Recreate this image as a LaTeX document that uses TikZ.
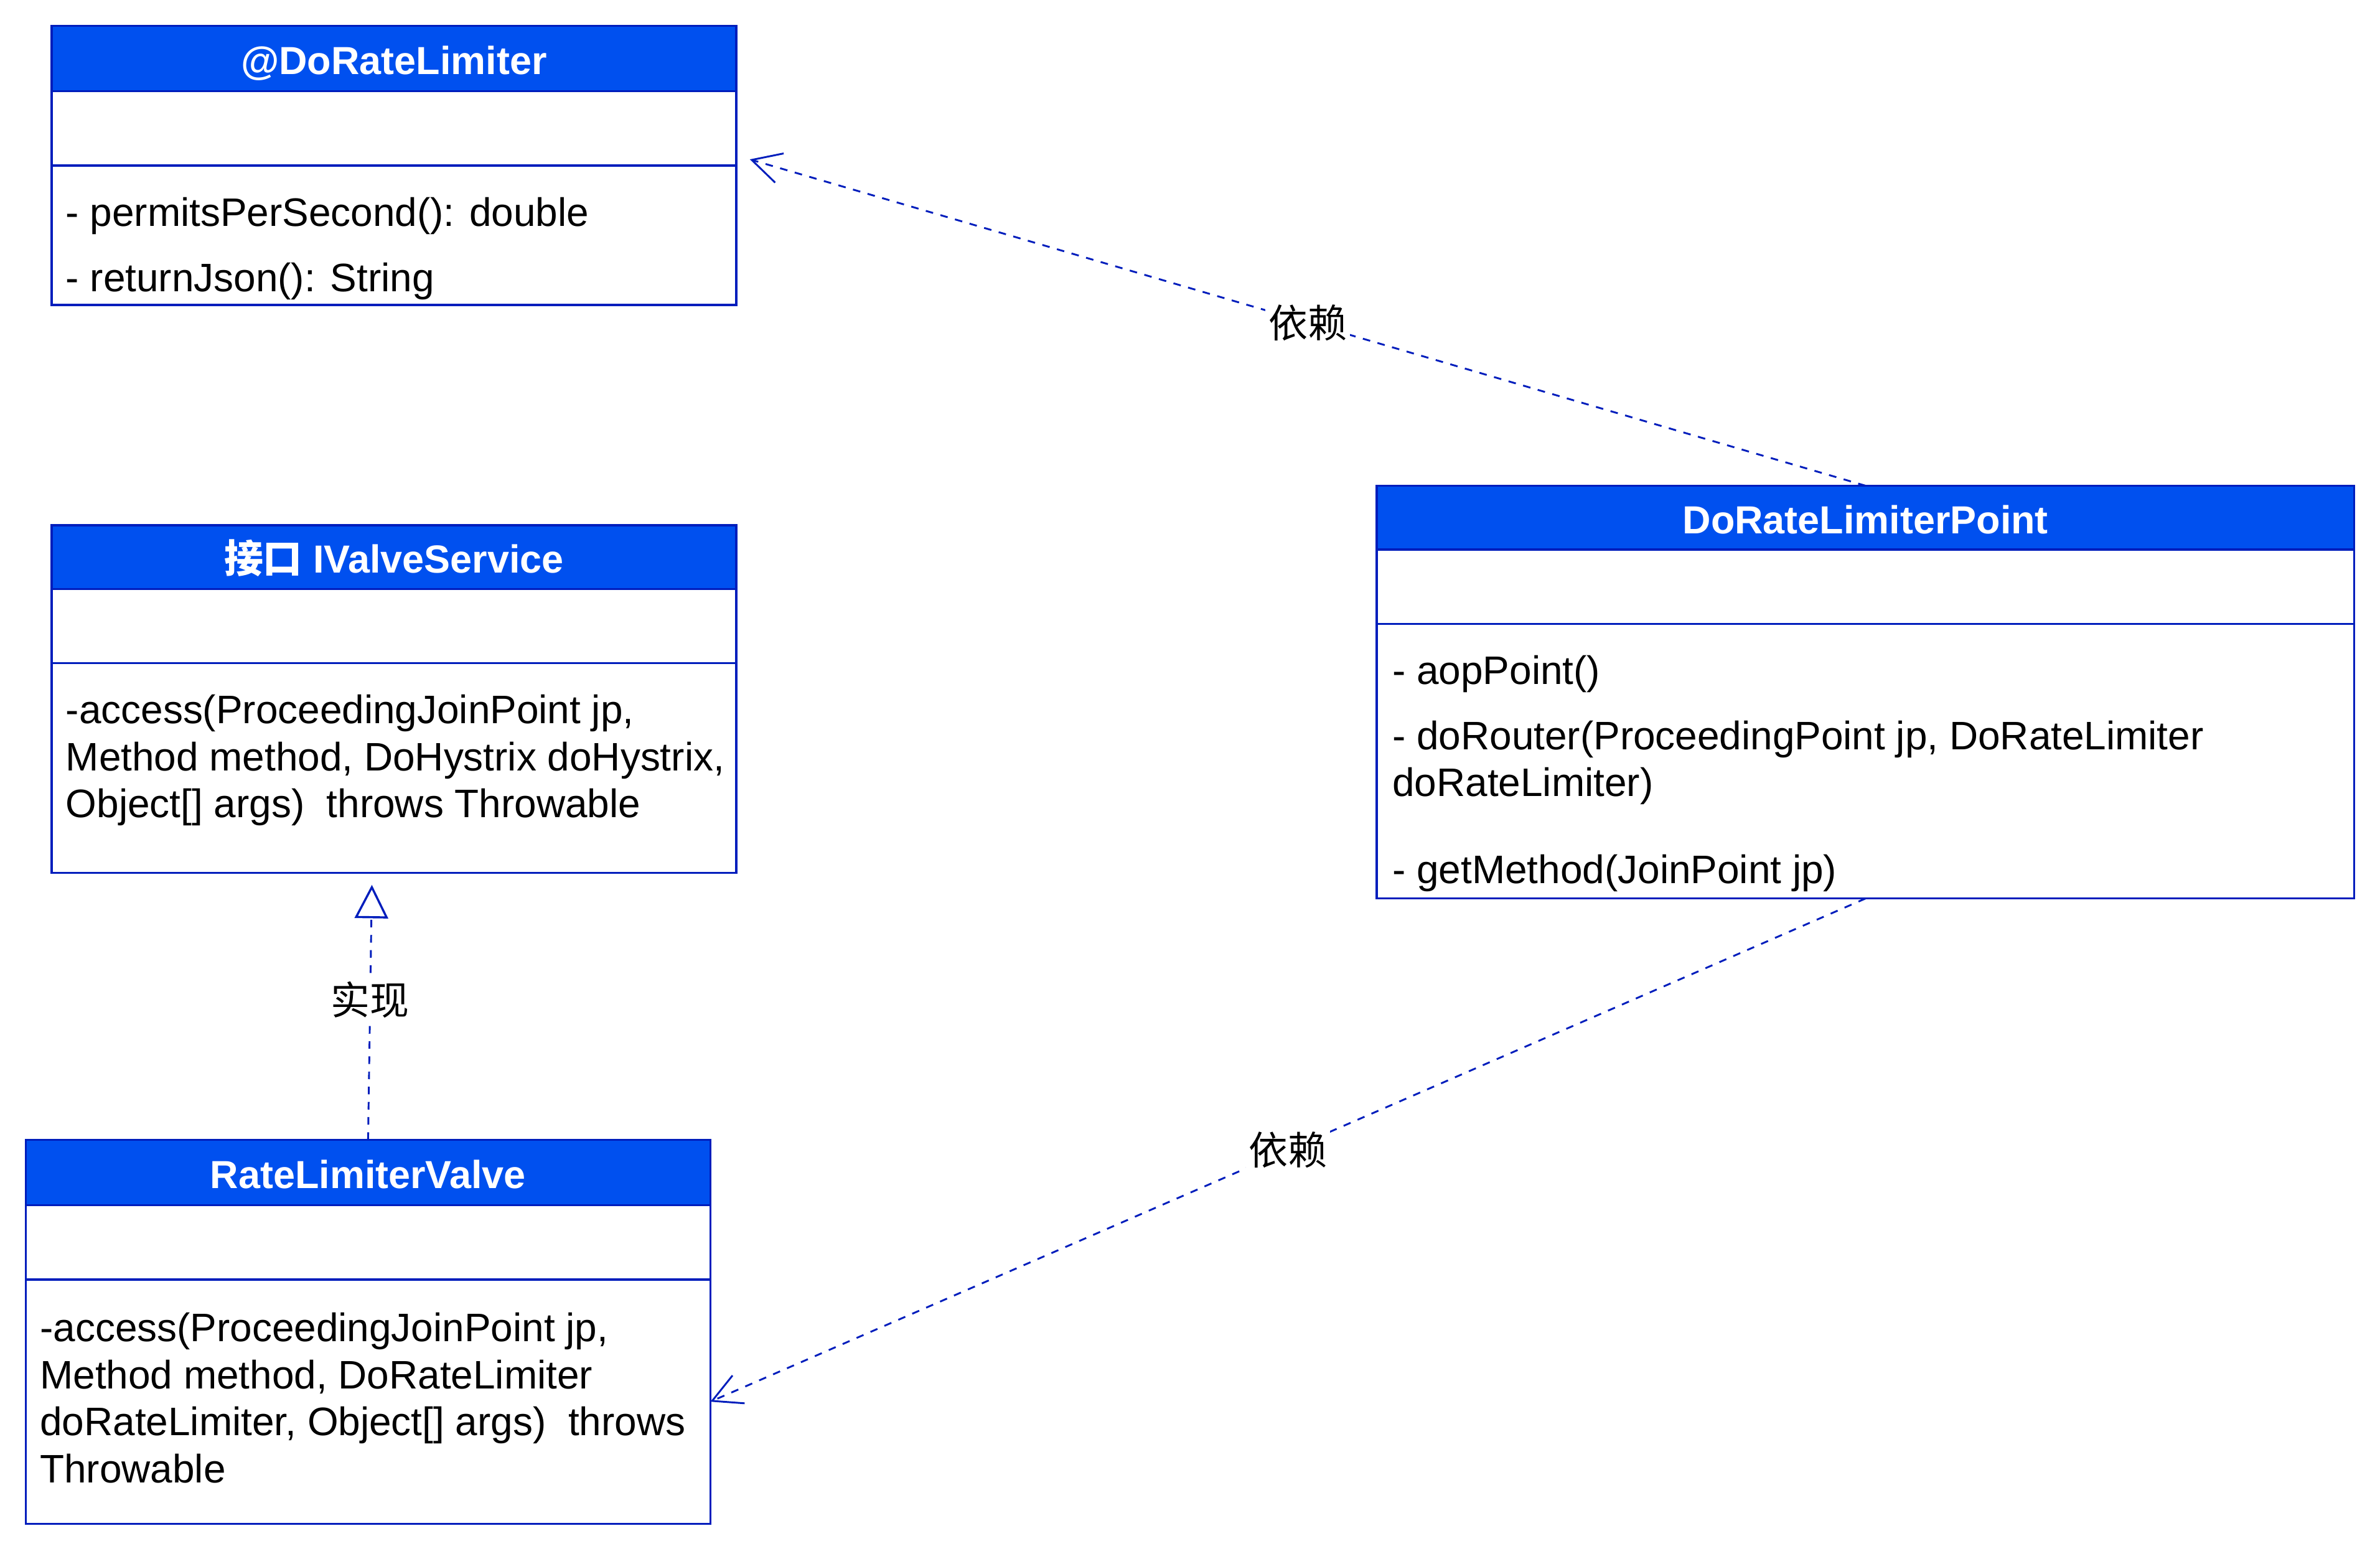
\documentclass[tikz,border=0pt]{standalone}
\usepackage{fontspec}
\setmainfont{Liberation Sans}
\newfontfamily\cjk{Noto Sans CJK SC}
\usetikzlibrary{arrows.meta,positioning}
\definecolor{umlblue}{HTML}{0050EF}
\definecolor{umledge}{HTML}{001DBC}

\begin{document}
\begin{tikzpicture}[x=0.5pt,y=-0.5pt,
    every node/.style={font=\fontsize{13.1}{15.5}\selectfont},
    cls/.style={draw=umledge,line width=0.7pt,fill=umlblue,text=white,outer sep=0pt,
      font=\fontsize{12.9}{15.5}\selectfont\bfseries,inner sep=0pt,anchor=north west,
      text height=1.06em,text depth=0pt},
    sect/.style={draw=umledge,line width=0.7pt,fill=white,inner sep=0pt,outer sep=0pt},
    member/.style={anchor=west,inner sep=0pt,text height=0.75em,text depth=0.25em,yshift=-2pt},
    lines/.style={anchor=west,inner sep=0pt,align=left},
    dep/.style={umledge,line width=0.6pt,dash pattern=on 2.5pt off 2.5pt,
      -{Straight Barb[length=9.5pt,width=10pt,line width=0.6pt]}},
    real/.style={umledge,line width=0.6pt,dash pattern=on 2.5pt off 2.5pt,
      -{Triangle[open,length=11pt,width=11pt,line width=0.7pt]}},
    tag/.style={fill=white,text=black,inner sep=1pt,font=\fontsize{12.9}{15.5}\selectfont\cjk}]
    \fill[white] (0,0) rectangle (1568,1027);
    \useasboundingbox (0,0) rectangle (1568,1027);

    % annotation
    \node[cls,minimum width=225.5pt,minimum height=21.5pt] (limhd) at (34,17) {@DoRateLimiter};
    \node[sect,minimum width=225.5pt,minimum height=24.5pt,below=0pt of limhd] (limattr) {};
    \node[sect,minimum width=225.5pt,minimum height=46pt,below=0pt of limattr] (limops) {};
    \node[member] (limm1) at (43,140) {- permitsPerSecond(): double};
    \node[member] (limm2) at (43,183) {- returnJson(): String};

    % interface
    \node[cls,minimum width=225.5pt,minimum height=21pt] (valvehd) at (34,346) {{\cjk 接口} IValveService};
    \node[sect,minimum width=225.5pt,minimum height=24.5pt,below=0pt of valvehd] (valveattr) {};
    \node[sect,minimum width=225.5pt,minimum height=69pt,below=0pt of valveattr] (valveops) {};
    \node[lines] (valvem1) at (43,501) {-access(ProceedingJoinPoint jp,\\Method method, DoHystrix doHystrix,\\Object[] args)~ throws Throwable};

    % implementation
    \node[cls,minimum width=225.5pt,minimum height=21.5pt] (ratehd) at (17,751) {RateLimiterValve};
    \node[sect,minimum width=225.5pt,minimum height=24.5pt,below=0pt of ratehd] (rateattr) {};
    \node[sect,minimum width=225.5pt,minimum height=80.5pt,below=0pt of rateattr] (rateops) {};
    \node[lines] (ratem1) at (26,921) {-access(ProceedingJoinPoint jp,\\Method method, DoRateLimiter\\doRateLimiter, Object[] args)~ throws\\Throwable};

    % aspect
    \node[cls,minimum width=322pt,minimum height=21pt] (pthd) at (907,320) {DoRateLimiterPoint};
    \node[sect,minimum width=322pt,minimum height=24.5pt,below=0pt of pthd] (ptattr) {};
    \node[sect,minimum width=322pt,minimum height=90.5pt,below=0pt of ptattr] (ptops) {};
    \node[member] (ptm1) at (917,442) {- aopPoint()};
    \node[lines] (ptm2) at (917,502.5) {- doRouter(ProceedingPoint jp, DoRateLimiter\\doRateLimiter)};
    \node[member] (ptm3) at (917,573) {- getMethod(JoinPoint jp)};

    \coordinate (limin) at (494,105);
    \coordinate (valvein) at (245,583);
    \draw[dep] (pthd.north) -- node[tag] (dep1) {依赖} (limin);
    \draw[dep] (ptops.south) -- node[tag] (dep2) {依赖} (rateops.east);
    \draw[real] (ratehd.north) -- node[tag,pos=0.55] (realtag) {实现} (valvein);
\end{tikzpicture}
\end{document}
